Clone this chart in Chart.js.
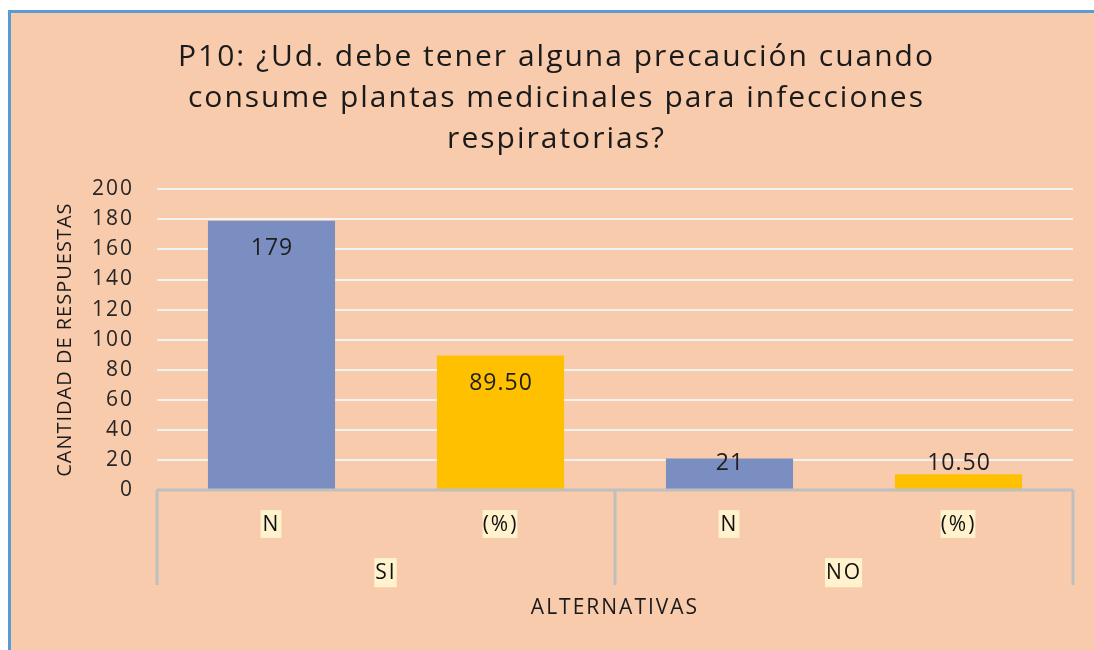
<!DOCTYPE html>
<html>
<head>
<meta charset="utf-8">
<script src="https://cdn.jsdelivr.net/npm/chart.js@4"></script>
<style>
  body { margin: 0; background: #ffffff; }
  #frame {
    position: absolute; left: 8px; top: 10px; width: 1086px; height: 640px;
    box-sizing: border-box; background: #F8CBAD;
    border-left: 3px solid #5B9BD5; border-top: 3px solid #5B9BD5;
  }
  #chart { position: absolute; left: 0; top: 0; }
</style>
</head>
<body>
<div id="frame"></div>
<canvas id="chart" width="1094" height="650"></canvas>
<script>
const groupLabels = ["SI", "NO"];
const subLabels = ["N", "(%)", "N", "(%)"];
const values = [179, 89.5, 21, 10.5];
const valueLabels = ["179", "89.50", "21", "10.50"];

const FONT = "'Open Sans', sans-serif";

// the original text is rendered wider, so space the letters a bit
const spacingPlugin = {
  id: "spacing",
  beforeDraw(chart) {
    const ctx = chart.ctx;
    ctx.letterSpacing = "2px";
    const ys = chart.scales.y;
    if (!ys._spaced) {
      const orig = ys.drawTitle.bind(ys);
      ys.drawTitle = function () {
        ctx.save();
        ctx.letterSpacing = "1px";
        orig();
        ctx.restore();
      };
      ys._spaced = true;
    }
  },
};

// value labels, Excel "inside end" style
const valueLabelPlugin = {
  id: "valueLabels",
  afterDatasetsDraw(chart) {
    const ctx = chart.ctx;
    const meta = chart.getDatasetMeta(0);
    const base = chart.scales.y.getPixelForValue(0);
    ctx.save();
    ctx.letterSpacing = "1px";
    ctx.font = "23px " + FONT;
    ctx.fillStyle = "#1e1e1e";
    ctx.textAlign = "center";
    ctx.textBaseline = "middle";
    meta.data.forEach((bar, i) => {
      const y = Math.min(bar.y + 28, base - 26.5);
      ctx.fillText(valueLabels[i], bar.x + 0.5, y);
    });
    ctx.restore();
  },
};

// axis line and group separators of the category axis
const separatorPlugin = {
  id: "separators",
  afterDraw(chart) {
    const ctx = chart.ctx;
    const x = chart.scales.x;
    const top = x.top;
    const bottom = x.bottom + 47;
    const mid = (x.getPixelForValue(1) + x.getPixelForValue(2)) / 2;
    ctx.save();
    ctx.strokeStyle = "#BFBFBF";
    ctx.lineWidth = 3;
    ctx.beginPath();
    ctx.moveTo(x.left, top);
    ctx.lineTo(x.right, top);
    [x.left, mid, x.right].forEach((px) => {
      ctx.moveTo(px, top);
      ctx.lineTo(px, bottom);
    });
    ctx.stroke();
    ctx.restore();
  },
};

const tickStyle = {
  color: "#111111",
  padding: 22,
  font: { family: FONT, size: 21 },
  showLabelBackdrop: true,
  backdropColor: "#FFF2CC",
  backdropPadding: { top: 2, bottom: 2, left: 3, right: 2 },
};

new Chart(document.getElementById("chart"), {
  type: "bar",
  data: {
    labels: subLabels,
    datasets: [
      {
        data: values,
        backgroundColor: subLabels.map((l) => (l === "N" ? "#7B8EC1" : "#FFC000")),
        categoryPercentage: 1,
        barPercentage: 0.555,
      },
    ],
  },
  options: {
    responsive: false,
    animation: false,
    devicePixelRatio: 1,
    layout: { padding: { left: 20, right: 1, top: 0, bottom: 0 } },
    plugins: {
      legend: { display: false },
      tooltip: { enabled: false },
      title: {
        display: true,
        text: [
          "P10: ¿Ud. debe tener alguna precaución cuando",
          "consume plantas medicinales para infecciones",
          "respiratorias?",
        ],
        color: "#1a1a1a",
        font: { family: FONT, size: 30, weight: "normal", lineHeight: 1.37 },
        padding: { top: 36.5, bottom: 29.5 },
      },
    },
    scales: {
      y: {
        min: 0,
        max: 200,
        ticks: {
          stepSize: 20,
          color: "#262626",
          padding: 23,
          font: { family: FONT, size: 21 },
        },
        grid: { color: "#F2F2F2", lineWidth: 2, drawTicks: false },
        border: { display: false },
        title: {
          display: true,
          text: "CANTIDAD DE RESPUESTAS",
          color: "#1a1a1a",
          font: { family: FONT, size: 20 },
          padding: { top: 33, bottom: 0 },
        },
        afterFit(scale) {
          scale.width = 137;
        },
      },
      // empty right-hand margin so the title centres on the whole frame
      yRight: {
        type: "linear",
        position: "right",
        grid: { display: false, drawTicks: false },
        border: { display: false },
        ticks: { display: false },
        afterFit(scale) {
          scale.width = 20;
        },
      },
      x: {
        weight: 0,
        grid: { display: false, drawTicks: false },
        border: { display: false },
        ticks: tickStyle,
        afterFit(scale) {
          scale.height = 48;
        },
      },
      x2: {
        type: "category",
        labels: groupLabels,
        position: "bottom",
        weight: 1,
        offset: true,
        grid: { display: false, drawTicks: false },
        border: { display: false },
        ticks: tickStyle,
        title: {
          display: true,
          text: "ALTERNATIVAS",
          color: "#1a1a1a",
          font: { family: FONT, size: 21 },
          padding: { top: 0, bottom: 29.5 },
        },
        afterFit(scale) {
          scale.height = 112;
        },
      },
    },
  },
  plugins: [spacingPlugin, valueLabelPlugin, separatorPlugin],
});
</script>
</body>
</html>
